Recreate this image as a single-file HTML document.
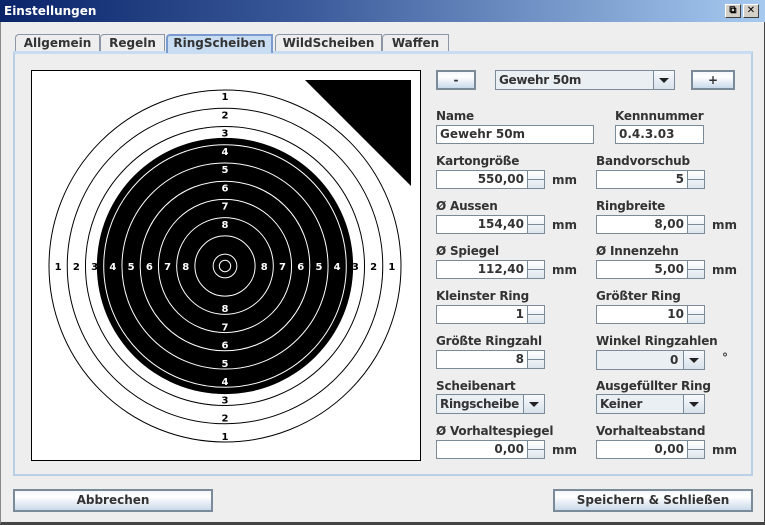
<!DOCTYPE html>
<html><head><meta charset="utf-8">
<style>
*{box-sizing:border-box;margin:0;padding:0}
body{width:765px;height:525px;background:#eeeeee;font-family:"DejaVu Sans","Liberation Sans",sans-serif;font-weight:bold;font-size:12px;color:#333;position:relative;overflow:hidden}
.abs{position:absolute}
#win{left:0;top:0;width:765px;height:525px;border:1px solid #888;border-right-color:#444;border-bottom:3px solid #444}
#title{left:0;top:0;width:765px;height:22px;background:linear-gradient(90deg,#0a246a,#3a5a9a 40%,#a6caf0);color:#fff;font-size:12px;padding:4px 4px;}
.tbtn{top:4px;width:16px;height:14px;background:#d4d0c8;border:1px solid;border-color:#fff #404040 #404040 #fff;font-size:10px;line-height:12px;text-align:center;color:#000}
.tab{top:34px;height:18px;border:1px solid #8c97a5;border-bottom:none;background:#eee;font-size:12px;text-align:center;line-height:16px;color:#333;border-radius:4px 0 0 0}
.tab.sel{background:#c8ddf2;border:2px solid #7a9ad0;border-bottom:none;line-height:14px}
#panel{left:13px;top:51px;width:740px;height:425px;border:2px solid #b8cfe5;border-top-width:3px;border-top-color:#c8ddf2}
.lbl{font-size:12px;color:#333;letter-spacing:-0.2px}
.field{background:#fff;border:1px solid #7a8a99;height:19px;font-size:12px;padding:1px 3px;line-height:15px;color:#333}
.spin{text-align:right;padding-right:20px}
.arr{position:absolute;right:0;top:0;width:17px;height:17px;border-left:1px solid #7a8a99;background:linear-gradient(#fff,#dde6ee)}
.arr:before{content:"";position:absolute;left:0;right:0;top:8px;border-top:1px solid #7a8a99}
.btn{height:23px;border:2px solid #7a8a99;background:linear-gradient(#f4f7fb,#fff 30%,#c9d9ea);text-align:center;line-height:19px;font-size:12px;color:#333}
.combo{background:#eaeff4;border:1px solid #7a8a99;height:20px;padding:1px 3px;line-height:16px;letter-spacing:-0.3px;overflow:hidden;white-space:nowrap}
.cbar{position:absolute;right:0;top:0;width:21px;height:18px;border-left:1px solid #7a8a99;background:linear-gradient(#f8fafc,#d7e1eb)}
.cbar:after{content:"";position:absolute;left:5px;top:7px;border-left:5px solid transparent;border-right:5px solid transparent;border-top:5px solid #222}
.mm{font-size:12px}
</style></head><body>
<div id="win" class="abs"></div>
<div id="title" class="abs">Einstellungen</div>
<div class="abs tbtn" style="left:725px">⧉</div>
<div class="abs tbtn" style="left:743px">✕</div>

<div class="abs tab" style="left:15px;width:85px">Allgemein</div>
<div class="abs tab" style="left:100px;width:65px">Regeln</div>
<div class="abs tab" style="left:275px;width:107px">WildScheiben</div>
<div class="abs tab" style="left:382px;width:67px">Waffen</div>
<div id="panel" class="abs"></div>
<div class="abs tab sel" style="left:166px;width:107px;height:19px">RingScheiben</div>

<svg class="abs" style="left:0;top:0" width="765" height="525">
<rect x="31.5" y="70.5" width="389" height="390" fill="#fff" stroke="#000"/>
<polygon points="305,80 411,80 411,186" fill="#000"/>
<g id="rings"></g>
</svg>
<script>
const aussen=154.4, spiegel=112.4, ringbreite=8, innenzehn=5;
const ringNumbers=[1,2,3,4,5,6,7,8,9,10];
const labelNumbers=[1,2,3,4,5,6,7,8];
const cx=225, cy=266, scale=176/(aussen/2);
const r=mm=>mm*scale;
const g=document.getElementById('rings');
const NS='http://www.w3.org/2000/svg';
function ringR(n){return aussen/2-(n-1)*ringbreite;}
ringNumbers.filter(n=>ringR(n)>=spiegel/2).forEach(n=>{
  const c=document.createElementNS(NS,'circle');
  
  
  c.setAttribute('cx',cx);c.setAttribute('cy',cy);c.setAttribute('r',r(ringR(n)));
  c.setAttribute('fill','#fff');c.setAttribute('stroke','#000');
  g.appendChild(c);
});
const sp=document.createElementNS(NS,'circle');


sp.setAttribute('cx',cx);sp.setAttribute('cy',cy);sp.setAttribute('r',r(spiegel/2));sp.setAttribute('fill','#000');
g.appendChild(sp);
ringNumbers.filter(n=>ringR(n)<spiegel/2).forEach(n=>{
  const c=document.createElementNS(NS,'circle');
  
  
  c.setAttribute('cx',cx);c.setAttribute('cy',cy);c.setAttribute('r',r(ringR(n)));
  c.setAttribute('fill','none');c.setAttribute('stroke','#fff');
  g.appendChild(c);
});
const iz=document.createElementNS(NS,'circle');


iz.setAttribute('cx',cx);iz.setAttribute('cy',cy);iz.setAttribute('r',r(innenzehn/2));iz.setAttribute('fill','none');iz.setAttribute('stroke','#fff');
g.appendChild(iz);
labelNumbers.forEach(n=>{
  const mid=ringR(n)-ringbreite/2;
  const col=mid<spiegel/2?'#fff':'#000';
  [[0,-1],[0,1],[-1,0],[1,0]].forEach(([dx,dy])=>{
    const t=document.createElementNS(NS,'text');
    
    
    t.setAttribute('x',cx+dx*r(mid));t.setAttribute('y',cy+dy*(r(mid)+3)+4);
    t.setAttribute('text-anchor','middle');t.setAttribute('fill',col);
    t.setAttribute('font-family','DejaVu Sans, sans-serif');t.setAttribute('font-weight','bold');t.setAttribute('font-size','10');
    t.textContent=n;
    g.appendChild(t);
  });
});
</script>

<div class="abs btn" style="left:436px;top:70px;width:40px;height:20px;line-height:16px">-</div>
<div class="abs combo" style="left:495px;top:70px;width:180px">Gewehr 50m<div class="cbar"></div></div>
<div class="abs btn" style="left:691px;top:70px;width:44px;height:20px;line-height:16px">+</div>

<div class="abs lbl" style="left:436px;top:109px">Name</div>
<div class="abs field" style="left:436px;top:125px;width:158px">Gewehr 50m</div>
<div class="abs lbl" style="left:615px;top:109px">Kennnummer</div>
<div class="abs field" style="left:615px;top:125px;width:89px">0.4.3.03</div>

<div class="abs lbl" style="left:436px;top:154px">Kartongröße</div>
<div class="abs field spin" style="left:436px;top:170px;width:109px">550,00<div class="arr"></div></div>
<div class="abs mm" style="left:552px;top:173px">mm</div>
<div class="abs lbl" style="left:596px;top:154px">Bandvorschub</div>
<div class="abs field spin" style="left:596px;top:170px;width:109px">5<div class="arr"></div></div>

<div class="abs lbl" style="left:436px;top:199px">Ø Aussen</div>
<div class="abs field spin" style="left:436px;top:215px;width:109px">154,40<div class="arr"></div></div>
<div class="abs mm" style="left:552px;top:218px">mm</div>
<div class="abs lbl" style="left:596px;top:199px">Ringbreite</div>
<div class="abs field spin" style="left:596px;top:215px;width:109px">8,00<div class="arr"></div></div>
<div class="abs mm" style="left:712px;top:218px">mm</div>

<div class="abs lbl" style="left:436px;top:244px">Ø Spiegel</div>
<div class="abs field spin" style="left:436px;top:260px;width:109px">112,40<div class="arr"></div></div>
<div class="abs mm" style="left:552px;top:263px">mm</div>
<div class="abs lbl" style="left:596px;top:244px">Ø Innenzehn</div>
<div class="abs field spin" style="left:596px;top:260px;width:109px">5,00<div class="arr"></div></div>
<div class="abs mm" style="left:712px;top:263px">mm</div>

<div class="abs lbl" style="left:436px;top:289px">Kleinster Ring</div>
<div class="abs field spin" style="left:436px;top:305px;width:109px">1<div class="arr"></div></div>
<div class="abs lbl" style="left:596px;top:289px">Größter Ring</div>
<div class="abs field spin" style="left:596px;top:305px;width:109px">10<div class="arr"></div></div>

<div class="abs lbl" style="left:436px;top:334px">Größte Ringzahl</div>
<div class="abs field spin" style="left:436px;top:350px;width:109px">8<div class="arr"></div></div>
<div class="abs lbl" style="left:596px;top:334px">Winkel Ringzahlen</div>
<div class="abs combo" style="left:596px;top:350px;width:109px;text-align:right;padding-right:26px">0<div class="cbar"></div></div>
<div class="abs mm" style="left:722px;top:351px">°</div>

<div class="abs lbl" style="left:436px;top:379px">Scheibenart</div>
<div class="abs combo" style="left:436px;top:394px;width:109px">Ringscheibe<div class="cbar"></div></div>
<div class="abs lbl" style="left:596px;top:379px">Ausgefüllter Ring</div>
<div class="abs combo" style="left:596px;top:394px;width:109px">Keiner<div class="cbar"></div></div>

<div class="abs lbl" style="left:436px;top:424px">Ø Vorhaltespiegel</div>
<div class="abs field spin" style="left:436px;top:440px;width:109px">0,00<div class="arr"></div></div>
<div class="abs mm" style="left:552px;top:443px">mm</div>
<div class="abs lbl" style="left:596px;top:424px">Vorhalteabstand</div>
<div class="abs field spin" style="left:596px;top:440px;width:109px">0,00<div class="arr"></div></div>
<div class="abs mm" style="left:712px;top:443px">mm</div>

<div class="abs btn" style="left:13px;top:489px;width:200px">Abbrechen</div>
<div class="abs btn" style="left:553px;top:489px;width:200px">Speichern &amp; Schließen</div>
</body></html>
